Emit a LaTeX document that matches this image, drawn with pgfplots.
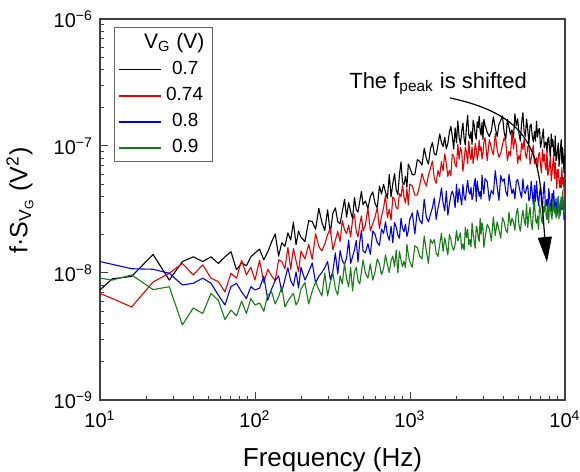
\documentclass[border=0pt]{standalone}
\usepackage{fontspec}
\setmainfont{Liberation Sans}
\usepackage{pgfplots}
\pgfplotsset{compat=1.18}
\usepackage{pgfplotstable}
\usetikzlibrary{arrows.meta}
\definecolor{cred}{RGB}{232,0,0}
\definecolor{cblue}{RGB}{0,0,225}
\definecolor{cgreen}{RGB}{20,125,20}

% values of f*S_VG in units of 1e-9 V^2
\pgfplotstableread{
f k r b g
10 7.35 6.9 12.3 9.1
12 9.0 6.3 11.7 8.8
16 9.4 5.4 10.8 9.65
22 14.0 8.5 10.7 7.4
28 8.8 9.95 9.95 7.8
34 12.3 11.9 8.05 3.9
40 13.4 9.65 8.3 5.3
46 12.3 11.6 9.1 4.8
52 13.4 9.1 8.3 6.9
58 11.9 8.55 6.7 6.1
64 13.4 7.1 5.6 4.3
70 14.7 9.95 7.8 5.1
76 10.6 9.1 8.3 4.6
82 12.0 12.6 7.1 6.0
88 11.4 9.65 6.3 4.8
94 13.4 11.1 7.8 6.3
100 14.4 8.8 7.35 5.6
107 15.4 12.6 7.6 5.8
114 12.7 8.4 9.4 5.0
121 14.7 10.7 6.1 6.7
128 17.6 9.5 7.5 7.1
135 20.3 8.7 8.7 5.7
142 13.6 12.7 9.5 6.5
149 17.3 12.3 7.1 7.8
156 16.2 10.8 8.9 5.4
163 20.7 15.9 11.0 6.0
170 18.2 10.7 8.7 6.5
177 25.1 15.6 7.9 6.9
184 16.7 12.5 10.2 5.6
191 21.4 10.2 7.6 6.1
198 19.1 14.9 11.1 7.5
210 17.7 12.9 8.8 8.4
222 25.8 16.8 10.2 5.7
234 25.4 12.8 12.0 7.2
246 22.1 20.4 8.4 8.5
258 32.3 16.2 9.4 7.4
270 25.1 14.9 10.1 6.6
282 21.6 16.9 11.0 10.0
294 31.4 20.0 12.3 6.6
306 20.5 22.4 8.9 8.4
318 29.6 15.2 10.3 10.0
330 32.6 18.1 14.4 7.5
342 25.3 21.2 9.8 6.7
354 24.4 17.7 15.0 9.5
366 30.5 25.8 12.5 8.2
378 38.0 21.9 11.7 11.9
390 27.5 20.4 13.2 9.0
402 35.8 23.8 18.2 7.8
414 30.5 19.2 11.9 11.1
426 26.8 26.0 13.4 7.2
438 39.2 28.9 15.2 10.2
450 31.5 21.3 18.0 11.1
462 30.2 19.2 12.2 8.7
474 36.5 24.1 17.4 8.2
486 43.8 28.1 21.6 10.2
498 34.5 21.4 14.9 12.7
515 36.9 23.7 14.4 10.0
535 32.2 32.5 17.0 9.1
555 40.0 21.5 14.0 11.8
575 43.5 24.4 21.4 8.8
595 35.3 27.5 20.2 10.2
615 32.6 32.8 17.3 12.9
635 48.4 22.4 16.5 11.8
655 41.8 28.0 22.2 9.7
675 49.9 32.3 20.4 10.8
695 43.4 40.9 25.3 13.9
715 38.7 27.3 20.0 11.6
735 59.8 31.8 18.1 10.1
755 39.7 26.1 23.3 12.5
775 50.9 39.7 17.3 13.6
795 60.6 38.0 25.0 11.2
815 45.0 32.7 22.9 15.1
835 41.4 31.9 19.9 10.0
855 59.4 42.3 18.8 14.8
875 74.8 39.8 27.0 12.6
895 51.5 49.5 22.4 11.2
915 49.8 39.4 21.1 12.4
935 57.8 35.6 24.2 11.0
955 47.2 46.1 19.4 16.8
975 72.0 34.4 21.4 14.0
995 68.2 50.0 26.2 12.3
1035 59.3 48.6 29.8 11.1
1075 59.5 41.0 20.3 16.4
1115 78.1 41.1 31.3 15.8
1155 75.7 48.8 26.1 13.6
1195 70.7 60.8 24.4 12.9
1235 96.0 53.1 38.0 19.6
1275 79.6 48.3 27.5 14.9
1315 72.0 58.8 25.3 11.9
1355 94.9 66.7 29.0 18.4
1395 106.7 76.3 32.6 17.1
1435 86.8 55.6 39.0 18.3
1475 85.0 50.8 26.4 14.4
1515 101.7 64.2 32.3 13.5
1555 124.4 57.6 37.5 16.7
1595 106.8 75.3 46.7 20.6
1635 98.9 63.7 35.6 14.8
1675 117.0 86.6 30.9 18.9
1715 95.0 73.1 44.2 16.2
1755 105.0 57.5 28.5 13.9
1795 128.5 64.4 34.6 20.1
1835 142.6 58.4 40.8 18.4
1875 118.8 86.3 44.1 16.0
1915 94.5 83.1 40.6 15.1
1955 138.9 71.5 32.7 16.8
1995 105.8 68.3 50.0 21.6
2035 157.7 103.3 35.9 17.9
2075 116.5 78.7 46.1 19.2
2115 102.9 97.5 39.6 20.7
2155 129.9 90.4 34.3 15.4
2195 151.3 63.2 49.7 16.9
2235 113.7 76.6 39.7 15.1
2275 101.8 97.9 37.4 22.9
2315 143.5 89.0 45.7 19.0
2355 174.4 72.4 53.6 22.1
2395 122.3 109.2 43.9 16.7
2435 114.2 85.1 41.7 18.4
2475 130.3 77.8 47.2 16.1
2515 102.6 98.5 37.8 24.8
2555 159.7 72.7 41.1 20.3
2595 145.2 83.1 50.6 17.7
2635 122.0 104.7 55.5 15.7
2675 113.6 95.0 36.6 23.4
2715 154.5 77.6 53.0 22.1
2755 139.7 86.4 45.7 18.9
2795 171.3 111.1 40.1 17.7
2835 132.6 91.5 43.7 27.0
2875 121.6 98.5 38.2 20.2
2915 153.1 78.9 58.9 24.8
2955 112.6 86.5 48.0 22.6
2995 161.8 106.3 41.9 15.9
3050 145.8 116.5 55.3 19.0
3150 127.8 76.9 52.3 24.2
3250 118.8 112.1 37.1 22.3
3350 131.6 96.3 44.7 17.9
3450 169.8 85.0 41.8 27.6
3550 138.8 125.5 63.9 19.7
3650 118.7 93.1 47.8 25.3
3750 148.7 81.5 37.4 21.8
3850 158.7 88.0 58.6 18.8
3950 172.5 101.9 52.7 27.3
4050 128.3 115.7 55.2 25.3
4150 113.2 107.3 43.9 21.8
4250 162.8 76.9 40.3 20.8
4350 140.8 90.7 59.8 30.1
4450 122.8 83.7 49.2 23.6
4550 133.9 128.7 42.3 27.0
4650 115.6 94.7 45.9 25.1
4750 179.3 114.7 38.3 21.7
4850 144.2 102.1 52.5 29.2
4950 164.0 72.9 54.5 32.3
5050 124.7 84.7 48.3 23.8
5150 109.1 77.2 42.7 21.3
5250 152.4 106.1 38.9 26.7
5350 182.9 93.8 55.1 31.2
5450 129.0 113.8 44.1 26.0
5550 119.0 86.5 42.2 23.7
5650 163.7 80.0 46.8 35.1
5750 135.0 98.9 49.1 22.8
5850 103.4 101.9 36.9 28.6
5950 144.2 71.9 39.4 32.9
6050 148.5 79.6 52.8 24.8
6150 119.1 89.7 42.5 22.0
6250 107.4 101.6 34.4 30.9
6350 129.8 72.1 49.0 37.7
6450 109.5 77.8 36.7 26.3
6550 156.6 80.9 52.9 24.6
6650 117.7 67.3 39.8 28.1
6750 134.0 85.5 34.0 22.1
6850 137.4 88.9 42.2 34.4
6950 97.1 71.1 47.9 31.2
7050 107.3 61.3 36.4 26.3
7150 120.6 94.5 31.7 24.6
7250 136.0 75.5 44.0 33.3
7350 96.7 86.4 52.2 30.2
7450 103.9 69.5 37.1 37.1
7550 107.8 64.4 33.8 28.9
7650 89.2 92.0 38.1 26.4
7750 113.6 58.8 29.3 33.4
7850 117.5 62.2 46.1 24.7
7950 93.7 72.7 40.9 35.6
8050 80.5 81.0 33.9 32.4
8150 124.3 53.2 30.6 28.3
8250 98.9 61.3 42.2 26.5
8350 113.0 73.4 37.0 38.1
8450 90.6 85.7 44.7 31.4
8550 84.2 55.0 33.7 29.7
8650 119.9 73.8 31.3 33.8
8750 76.4 61.5 38.4 27.1
8850 80.6 46.4 27.9 29.7
8950 94.3 64.4 30.9 36.5
9050 105.1 65.5 39.5 40.3
9150 69.2 53.0 34.8 26.7
9250 80.0 47.1 28.0 33.5
9350 95.6 56.5 30.3 29.8
9450 112.2 46.9 39.6 39.2
9550 72.2 67.6 31.6 32.8
9650 97.4 50.0 33.5 44.3
9750 80.9 56.4 34.8 36.4
9850 61.4 45.0 26.4 28.9
9950 85.4 40.5 27.9 31.9
}\datatab

\begin{document}
\begin{tikzpicture}
\begin{axis}[
  scale only axis, width=232.5pt, height=190.5pt,
  xmode=log, ymode=log,
  xmin=10, xmax=10000, ymin=1, ymax=1000,
  xtick={10,100,1000,10000},
  xticklabels={10\textsuperscript{1},10\textsuperscript{2},10\textsuperscript{3},10\textsuperscript{4}},
  ytick={1,10,100,1000},
  yticklabels={10\textsuperscript{−9},10\textsuperscript{−8},10\textsuperscript{−7},10\textsuperscript{−6}},
  minor xtick={20,30,...,90,200,300,...,900,2000,3000,...,9000},
  minor ytick={2,3,...,9,20,30,...,90,200,300,...,900},
  tick pos=left, tick align=inside,
  major tick length=4pt, minor tick length=2pt,
  tick style={line width=0.5pt, black!75},
  axis line style={line width=0.6pt, black!75},
  tick label style={font=\fontsize{10}{12}\selectfont},
  xticklabel style={anchor=base, yshift=-14pt},
  xlabel={Frequency (Hz)},
  ylabel={f·S\textsubscript{V\textsubscript{G}} (V\textsuperscript{2})},
  xlabel style={font=\fontsize{13}{15}\selectfont, at={(rel axis cs:0.5,0)}, anchor=base, yshift=-33.5pt},
  ylabel style={font=\fontsize{12.5}{15}\selectfont, at={(rel axis cs:0,0.5)}, anchor=center, yshift=40pt, xshift=4.5pt},
  legend style={at={(rel axis cs:0.03,0.979)}, anchor=north west, draw=black!60, line width=0.4pt,
    font=\fontsize{9.5}{11}\selectfont, row sep=0.9pt, inner xsep=2pt, inner ysep=1pt},
  legend cell align=left,
  legend image code/.code={\draw[#1, line width=0.9pt] (0pt,0pt) -- (21pt,0pt);},
  every axis plot/.append style={line width=0.55pt, line join=round},
]
\addlegendimage{empty legend}
\addlegendentry{\hspace*{-11pt}\fontsize{10.5}{12}\selectfont V\textsubscript{G} (V)}
\addplot[black] table[x=f, y=k]{\datatab};
\addlegendentry{\hspace*{3pt}0.7}
\addplot[cred] table[x=f, y=r]{\datatab};
\addlegendentry{0.74}
\addplot[cblue] table[x=f, y=b]{\datatab};
\addlegendentry{\hspace*{3pt}0.8}
\addplot[cgreen] table[x=f, y=g]{\datatab};
\addlegendentry{\hspace*{3pt}0.9}
\node[anchor=base, font=\fontsize{11}{13}\selectfont] at (axis cs:1517,286) {The f\textsubscript{peak} is shifted};
\draw[line width=0.6pt, -{Triangle[length=12.5pt,width=7pt]}] (axis cs:1811,239) to[out=-12,in=95,looseness=1.3] (axis cs:7650,12.2);
\end{axis}
\pgfresetboundingbox
\path ([shift={(-50pt,-36pt)}]current axis.south west) rectangle ([shift={(7.5pt,9.5pt)}]current axis.north east);
\end{tikzpicture}
\end{document}
